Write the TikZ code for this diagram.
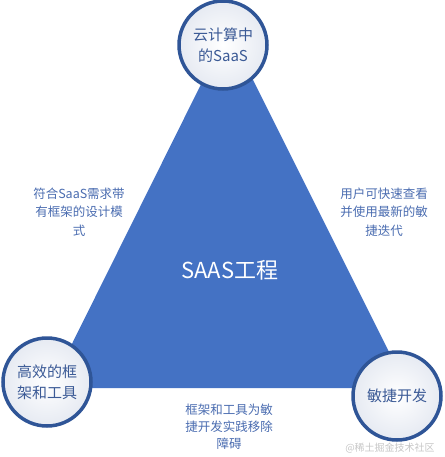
\documentclass[tikz,border=0pt]{standalone}
\usepackage{fontspec}
\setmainfont{Noto Sans CJK SC}
\usetikzlibrary{positioning}
\definecolor{triblue}{HTML}{4472C4}
\definecolor{ringblue}{HTML}{2F5597}
\definecolor{ringfill}{HTML}{E6EAF2}
\definecolor{cornertext}{HTML}{3B5A96}
\definecolor{sidetext}{HTML}{4A6CB0}

\begin{document}
\begin{tikzpicture}[x=1pt, y=-1pt,
  corner/.style={draw=ringblue, line width=3.5pt, circle, minimum size=88pt, inner sep=0pt,
    inner color=white, outer color=ringfill, align=center, text=cornertext,
    font=\fontsize{15}{21}\selectfont},
  side/.style={align=center, text=sidetext, font=\fontsize{12.5}{18.5}\selectfont}]
\useasboundingbox (0,0) rectangle (444,457);
% triangle corners
\coordinate (ta) at (228,30);
\coordinate (tb) at (50,388);
\coordinate (tc) at (407,388);
\fill[triblue] (ta) -- (tb) -- (tc) -- cycle;
\node[text=white, font=\fontsize{22}{26}\selectfont] (mid) at (230,270) {SAAS工程};
\node[corner] (cloud) at (223,45) {云计算中\\的SaaS};
\node[corner] (tools) at (47,382) {高效的框\\架和工具};
\node[corner] (agile) at (397,396) {敏捷开发};
\node[side] (lside) at (79,212) {符合SaaS需求带\\有框架的设计模\\式};
\node[side] (rside) at (384,212) {用户可快速查看\\并使用最新的敏\\捷迭代};
\node[side, font=\fontsize{12.5}{17}\selectfont] (bside) at (229,427) {框架和工具为敏\\捷开发实践移除\\障碍};
\node[text=gray!45, font=\fontsize{10}{12}\selectfont] (mark) at (390,448) {@稀土掘金技术社区};
\end{tikzpicture}
\end{document}
